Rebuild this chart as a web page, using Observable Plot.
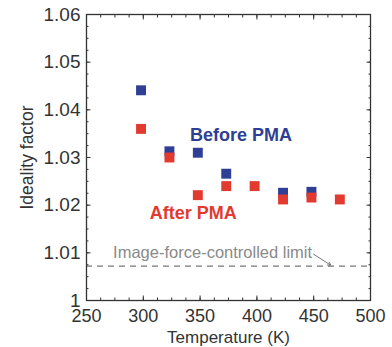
<!DOCTYPE html>
<html>
<head>
<meta charset="utf-8">
<script src="https://cdn.jsdelivr.net/npm/d3@7"></script>
<script src="https://cdn.jsdelivr.net/npm/@observablehq/plot@0.6"></script>
<style>
  html, body { margin: 0; padding: 0; background: #fff; }
  #chart svg { display: block; }
</style>
</head>
<body>
<div id="chart"></div>
<script>
// Data
const beforeTemp = [298, 323, 348, 373, 423, 448];
const beforeN    = [1.0441, 1.0313, 1.0310, 1.0266, 1.0226, 1.0228];
const afterTemp  = [298, 323, 348, 373, 398, 423, 448, 473];
const afterN     = [1.0360, 1.0300, 1.0221, 1.0240, 1.0240, 1.0212, 1.0216, 1.0212];
const imageForceLimit = 1.0072;

const xTicks = [250, 300, 350, 400, 450, 500];
const xMinorTicks = d3.range(250, 501, 12.5);
const yTicks = [1, 1.01, 1.02, 1.03, 1.04, 1.05, 1.06];
const yMinorTicks = d3.range(0, 25).map(i => +(1 + i * 0.0025).toFixed(4));

const xLabel = "Temperature (K)";
const yLabel = "Ideality factor";
const beforeLabel = {x: 386, y: 1.0346, text: "Before PMA"};
const afterLabel = {x: 344, y: 1.0183, text: "After PMA"};
const limitLabel = {x: 361, y: 1.0101, text: "Image-force-controlled limit"};
const limitArrow = {x1: 450, y1: 1.0097, x2: 465, y2: 1.0074};

const before = beforeTemp.map((t, i) => ({t, n: beforeN[i]}));
const after = afterTemp.map((t, i) => ({t, n: afterN[i]}));

const blue = "#2f3f96";
const red = "#e23a2e";
const axisColor = "#333";
const font = "'Liberation Sans', Arial, Helvetica, sans-serif";

const chart = Plot.plot({
  width: 392,
  height: 347,
  marginLeft: 86,
  marginRight: 22,
  marginTop: 14,
  marginBottom: 47,
  style: {fontFamily: font, background: "#fff", overflow: "visible"},
  x: {domain: [250, 500]},
  y: {domain: [1, 1.06]},
  marks: [
    // dashed limit line
    Plot.ruleY([imageForceLimit], {stroke: "#777", strokeWidth: 1.2, strokeDasharray: "6,5"}),
    Plot.text([limitLabel], {x: "x", y: "y", text: "text", fill: "#8a8a8a", fontSize: 16.5}),
    Plot.arrow([limitArrow], {x1: "x1", y1: "y1", x2: "x2", y2: "y2", stroke: "#777", strokeWidth: 1, headLength: 5}),
    // data
    Plot.dot(before, {x: "t", y: "n", symbol: "square", r: 5.6, fill: blue, stroke: "none"}),
    Plot.dot(after, {x: "t", y: "n", symbol: "square", r: 5.6, fill: red, stroke: "none"}),
    Plot.text([beforeLabel], {x: "x", y: "y", text: "text", fill: blue, fontWeight: "bold", fontSize: 18}),
    Plot.text([afterLabel], {x: "x", y: "y", text: "text", fill: red, fontWeight: "bold", fontSize: 18}),
    // frame
    Plot.frame({stroke: axisColor, strokeWidth: 1.3}),
    // inward ticks on all sides
    Plot.axisX({anchor: "bottom", ticks: xTicks, tickSize: -4.5, text: null, label: null, stroke: axisColor}),
    Plot.axisX({anchor: "top", ticks: xTicks, tickSize: -4.5, text: null, label: null, stroke: axisColor}),
    Plot.axisX({anchor: "bottom", ticks: xMinorTicks, tickSize: -2.5, text: null, label: null, stroke: axisColor}),
    Plot.axisX({anchor: "top", ticks: xMinorTicks, tickSize: -2.5, text: null, label: null, stroke: axisColor}),
    Plot.axisY({anchor: "left", ticks: yTicks, tickSize: -4.5, text: null, label: null, stroke: axisColor}),
    Plot.axisY({anchor: "right", ticks: yTicks, tickSize: -4.5, text: null, label: null, stroke: axisColor}),
    Plot.axisY({anchor: "left", ticks: yMinorTicks, tickSize: -2.5, text: null, label: null, stroke: axisColor}),
    Plot.axisY({anchor: "right", ticks: yMinorTicks, tickSize: -2.5, text: null, label: null, stroke: axisColor}),
    // tick labels
    Plot.axisX({anchor: "bottom", ticks: xTicks, tickSize: 0, tickPadding: 9, label: null, fontSize: 18, fill: axisColor, tickFormat: d => String(d)}),
    Plot.axisY({anchor: "left", ticks: yTicks, tickSize: 0, tickPadding: 6, label: null, fontSize: 19, fill: axisColor, tickFormat: d => String(+d.toFixed(2))}),
    // axis titles
    Plot.text([xLabel], {frameAnchor: "bottom", lineAnchor: "middle", textAnchor: "middle", dy: 37, text: d => d, fontSize: 17, fill: axisColor}),
    Plot.text([yLabel], {frameAnchor: "left", lineAnchor: "middle", textAnchor: "middle", dx: -59, rotate: -90, text: d => d, fontSize: 17.5, fill: axisColor})
  ]
});

document.getElementById("chart").appendChild(chart);
</script>
</body>
</html>
